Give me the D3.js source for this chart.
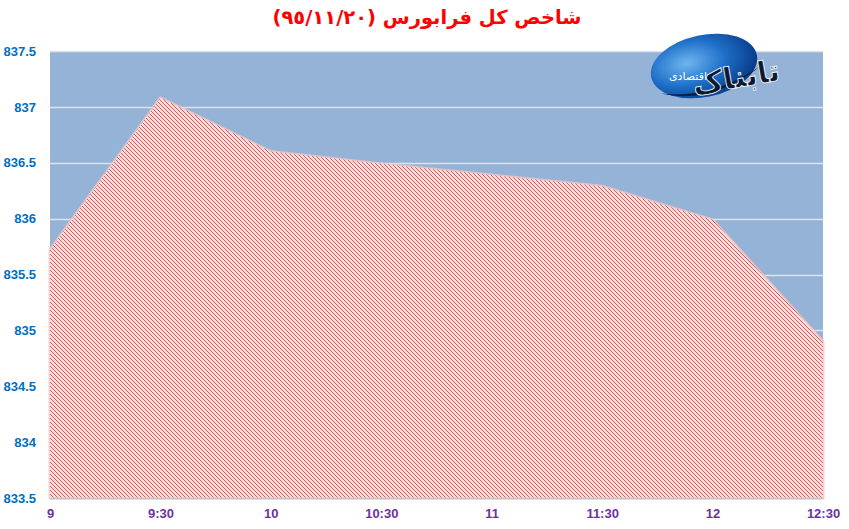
<!DOCTYPE html>
<html><head><meta charset="utf-8">
<script src="https://cdn.jsdelivr.net/npm/d3@7/dist/d3.min.js"></script>
<style>html,body{margin:0;padding:0;background:#fff;}svg{display:block;}</style>
</head><body>
<script>
const categories = ["9","9:30","10","10:30","11","11:30","12","12:30"];
const values = [835.72, 837.08, 836.60, 836.49, 836.39, 836.29, 835.99, 834.90];
const yTicks = [833.5, 834, 834.5, 835, 835.5, 836, 836.5, 837, 837.5];
const yTickLabels = ["833.5","834","834.5","835","835.5","836","836.5","837","837.5"];
const titleText = "شاخص کل فرابورس (٩٥/١١/٢٠)";

const W = 849, H = 529;
const svg = d3.select("body").append("svg").attr("width", W).attr("height", H);
const defs = svg.append("defs");

const pat = defs.append("pattern").attr("id","hatch").attr("patternUnits","userSpaceOnUse")
  .attr("width",4).attr("height",4);
pat.append("rect").attr("width",4).attr("height",4).attr("fill","#FADCDC");
pat.append("path").attr("d","M-1,-1 L5,5 M-1,3 L1,5 M3,-1 L5,1").attr("stroke","#E05A5A").attr("stroke-width",1.0);

const rg = defs.append("radialGradient").attr("id","logoGrad").attr("cx","35%").attr("cy","40%").attr("r","65%");
rg.append("stop").attr("offset","0%").attr("stop-color","#6FB6F0");
rg.append("stop").attr("offset","55%").attr("stop-color","#1E6FC8");
rg.append("stop").attr("offset","100%").attr("stop-color","#0A3E8C");

const x = d3.scalePoint().domain(categories).range([50, 823]);
const y = d3.scaleLinear().domain([833.5, 837.5]).range([498, 51]);

svg.append("rect").attr("x", x.range()[0]).attr("y", y(837.5))
  .attr("width", x.range()[1]-x.range()[0]).attr("height", y(833.5)-y(837.5))
  .attr("fill","#95B3D7");

svg.append("g").selectAll("line").data(yTicks.slice(1)).join("line")
  .attr("x1", x.range()[0]).attr("x2", x.range()[1])
  .attr("y1", d=>Math.round(y(d))+0.5).attr("y2", d=>Math.round(y(d))+0.5)
  .attr("stroke","#DCE3EC").attr("stroke-width",1.5);

const area = d3.area().x((d,i)=>x(categories[i])).y0(y(833.5)).y1(d=>y(d));
svg.append("path").datum(values).attr("d", area)
  .attr("fill","none").attr("stroke","#F4C4C4").attr("stroke-width",3).attr("stroke-opacity",0.8);
svg.append("path").datum(values).attr("d", area).attr("fill","url(#hatch)");

svg.append("line").attr("x1", x.range()[0]).attr("x2", x.range()[1])
  .attr("y1", y(833.5)+0.5).attr("y2", y(833.5)+0.5).attr("stroke","#C8C8C8").attr("stroke-width",2);

const yAxis = d3.axisLeft(y).tickValues(yTicks).tickSize(0).tickPadding(14)
  .tickFormat((d,i)=>yTickLabels[i]);
const gy = svg.append("g").attr("transform",`translate(${x.range()[0]},0)`).call(yAxis);
gy.select(".domain").remove();
gy.selectAll("text").attr("fill","#0070C0").attr("font-family","Liberation Sans, Arial, sans-serif")
  .attr("font-weight","bold").attr("font-size","13px");

const xAxis = d3.axisBottom(x).tickSize(0).tickPadding(11);
const gx = svg.append("g").attr("transform",`translate(0,${y(833.5)})`).call(xAxis);
gx.select(".domain").remove();
gx.selectAll("text").attr("fill","#7030A0").attr("font-family","Liberation Sans, Arial, sans-serif")
  .attr("font-weight","bold").attr("font-size","13px");

svg.append("text").attr("x", 427).attr("y", 24).attr("text-anchor","middle")
  .attr("direction","rtl").attr("fill","#FF0000")
  .attr("font-family","DejaVu Sans, sans-serif").attr("font-weight","bold").attr("font-size","19.5px")
  .text(titleText);

const logo = svg.append("g").attr("transform","translate(704,66) rotate(-12)");
logo.append("ellipse").attr("rx",54).attr("ry",31).attr("fill","url(#logoGrad)");
logo.append("path").attr("d","M-48,18 Q0,40 55,12 Q0,34 -48,18 Z").attr("fill","#0A1E40");
svg.append("text").attr("x", 735).attr("y", 88).attr("text-anchor","middle").attr("direction","rtl")
  .attr("font-family","DejaVu Sans, sans-serif").attr("font-weight","bold").attr("font-size","30px")
  .attr("fill","#0A1A33").attr("stroke","#FFFFFF").attr("stroke-width",0.8)
  .attr("transform","rotate(-10,735,72)").text("تابناک");
svg.append("text").attr("x", 688).attr("y", 80).attr("text-anchor","middle").attr("direction","rtl")
  .attr("font-family","DejaVu Sans, sans-serif").attr("font-size","11px")
  .attr("fill","#FFFFFF").text("اقتصادی");
</script>
</body></html>
